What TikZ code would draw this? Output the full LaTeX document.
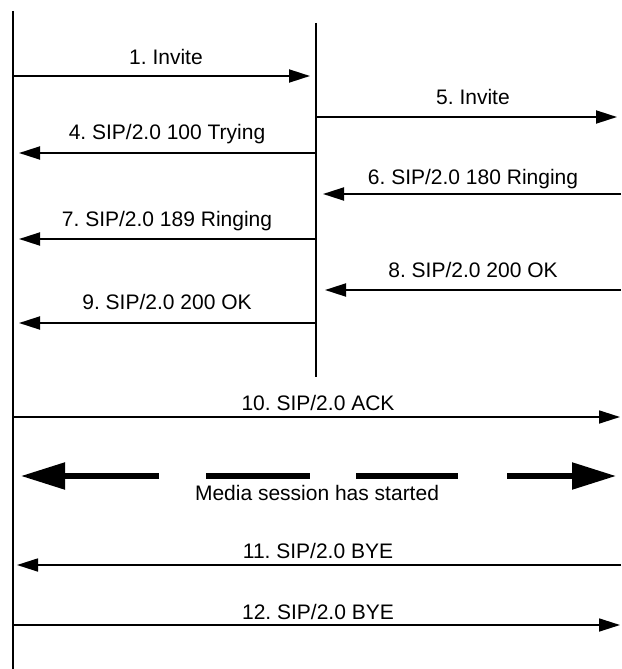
\documentclass[tikz,border=0pt]{standalone}
\usepackage{fontspec}
\setmainfont{Liberation Sans}
\usetikzlibrary{arrows.meta}
\frenchspacing
\begin{document}
\begin{tikzpicture}[x=1pt,y=-1pt,
  life/.style={line width=2.3pt},
  msg/.style={line width=1.9pt,-{Triangle[length=21pt,width=13pt]}},
  thinmsg/.style={line width=1.7pt,-{Triangle[length=21pt,width=13pt]}},
  lbl/.style={anchor=base,inner sep=0pt,font=\fontsize{21}{25}\selectfont\frenchspacing},
  media/.style={line width=5.3pt},
  mediahead/.style={media,-{Triangle[length=44pt,width=26pt]}}]
\useasboundingbox (0,0) rectangle (621,669);
\fill[white] (0,0) rectangle (621,669);
% lifelines
\coordinate (A0) at (13,11);  \coordinate (A1) at (13,669);
\coordinate (B0) at (316,23); \coordinate (B1) at (316,377);
\draw[life] (A0) -- (A1);
\draw[life] (B0) -- (B1);
% 1. Invite
\coordinate (m1s) at (13,76);  \coordinate (m1e) at (310,76);
\draw[msg] (m1s) -- (m1e);
\node[lbl] (l1) at (166,64) {1. Invite};
% 5. Invite
\coordinate (m5s) at (316,117);  \coordinate (m5e) at (617,117);
\draw[msg] (m5s) -- (m5e);
\node[lbl] (l5) at (473,104.7) {5. Invite};
% 4. Trying
\coordinate (m4s) at (316,153);  \coordinate (m4e) at (19,153);
\draw[msg] (m4s) -- (m4e);
\node[lbl] (l4) at (167,139.3) {4. SIP/2.0 100 Trying};
% 6. Ringing
\coordinate (m6s) at (621,194);  \coordinate (m6e) at (323,194);
\draw[msg] (m6s) -- (m6e);
\node[lbl] (l6) at (473,184) {6. SIP/2.0 180 Ringing};
% 7. Ringing
\coordinate (m7s) at (316,239);  \coordinate (m7e) at (19,239);
\draw[msg] (m7s) -- (m7e);
\node[lbl] (l7) at (167,226.7) {7. SIP/2.0 189 Ringing};
% 8. OK
\coordinate (m8s) at (621,290);  \coordinate (m8e) at (325,290);
\draw[msg] (m8s) -- (m8e);
\node[lbl] (l8) at (473,277) {8. SIP/2.0 200 OK};
% 9. OK
\coordinate (m9s) at (316,323);  \coordinate (m9e) at (19,323);
\draw[msg] (m9s) -- (m9e);
\node[lbl] (l9) at (167,309) {9. SIP/2.0 200 OK};
% 10. ACK
\coordinate (m10s) at (13,417);  \coordinate (m10e) at (620,417);
\draw[thinmsg] (m10s) -- (m10e);
\node[lbl] (l10) at (318,410.7) {10. SIP/2.0 ACK};
% media session
\coordinate (d1) at (159,476); \coordinate (d0) at (21,476);
\coordinate (d2) at (206,476); \coordinate (d3) at (310,476);
\coordinate (d4) at (356,476); \coordinate (d5) at (458,476);
\coordinate (d6) at (507,476); \coordinate (d7) at (616,476);
\draw[mediahead] (d1) -- (d0);
\draw[media] (d2) -- (d3);
\draw[media] (d4) -- (d5);
\draw[mediahead] (d6) -- (d7);
\node[lbl] (lm) at (317,500.7) {Media session has started};
% 11. BYE
\coordinate (m11s) at (621,565);  \coordinate (m11e) at (17,565);
\draw[thinmsg] (m11s) -- (m11e);
\node[lbl] (l11) at (318,558) {11. SIP/2.0 BYE};
% 12. BYE
\coordinate (m12s) at (13,625);  \coordinate (m12e) at (620,625);
\draw[thinmsg] (m12s) -- (m12e);
\node[lbl] (l12) at (318,619) {12. SIP/2.0 BYE};
\end{tikzpicture}
\end{document}
